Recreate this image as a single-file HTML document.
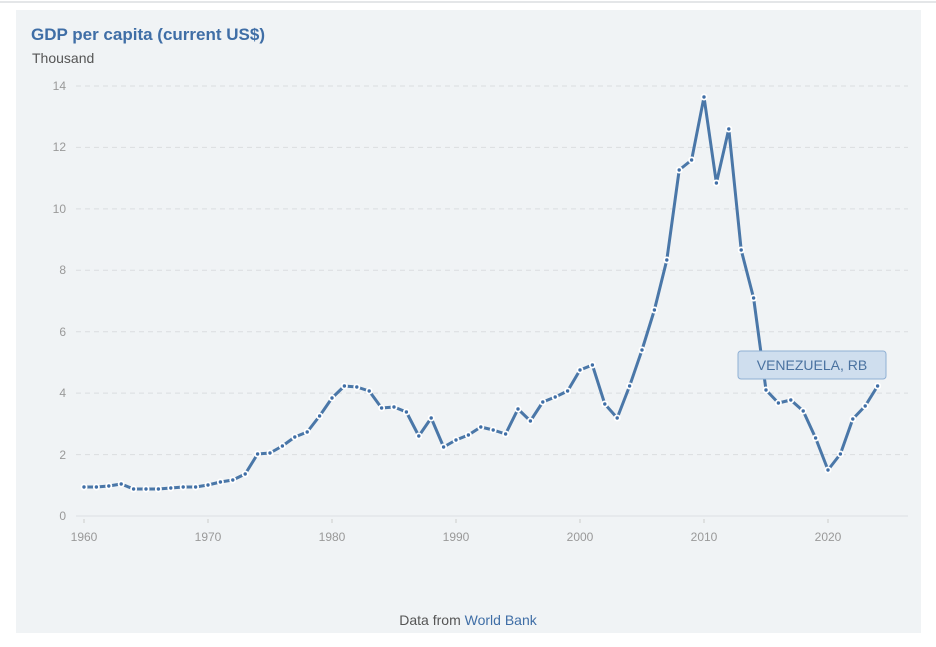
<!DOCTYPE html>
<html><head><meta charset="utf-8"><style>
body{margin:0;width:936px;height:642px;background:#fff;font-family:"Liberation Sans",sans-serif;overflow:hidden}
</style></head><body>
<svg width="936" height="642" xmlns="http://www.w3.org/2000/svg">
<line x1="0" y1="2" x2="936" y2="2" stroke="#e4e6e8" stroke-width="2"/>
<rect x="16" y="10" width="905" height="623" fill="#f0f3f5"/>
<text x="31" y="40" font-size="17" font-weight="bold" fill="#3f6ea6">GDP per capita (current US$)</text>
<text x="32" y="63" font-size="14" fill="#555">Thousand</text>
<g stroke="#dadde0" stroke-dasharray="5,4" stroke-width="1">
<line x1="76" y1="86" x2="908" y2="86"/><line x1="76" y1="147.4" x2="908" y2="147.4"/>
<line x1="76" y1="208.9" x2="908" y2="208.9"/><line x1="76" y1="270.3" x2="908" y2="270.3"/>
<line x1="76" y1="331.7" x2="908" y2="331.7"/><line x1="76" y1="393.1" x2="908" y2="393.1"/>
<line x1="76" y1="454.6" x2="908" y2="454.6"/>
</g>
<line x1="76" y1="516" x2="908" y2="516" stroke="#dcdfe2"/>
<g font-size="12" fill="#999" text-anchor="end">
<text x="66" y="90">14</text><text x="66" y="151">12</text><text x="66" y="213">10</text>
<text x="66" y="274">8</text><text x="66" y="336">6</text><text x="66" y="397">4</text>
<text x="66" y="459">2</text><text x="66" y="520">0</text>
</g>
<g font-size="12" fill="#999" text-anchor="middle">
<text x="84" y="541">1960</text><text x="208" y="541">1970</text><text x="332" y="541">1980</text>
<text x="456" y="541">1990</text><text x="580" y="541">2000</text><text x="704" y="541">2010</text><text x="828" y="541">2020</text>
</g>
<g stroke="#ccc"><line x1="84" y1="519" x2="84" y2="523"/><line x1="208" y1="519" x2="208" y2="523"/><line x1="332" y1="519" x2="332" y2="523"/><line x1="456" y1="519" x2="456" y2="523"/><line x1="580" y1="519" x2="580" y2="523"/><line x1="704" y1="519" x2="704" y2="523"/><line x1="828" y1="519" x2="828" y2="523"/></g>
<g id="s"></g>
<rect x="738" y="351" width="148" height="28" rx="3" fill="#cfdeee" stroke="#8fb0d4"/>
<text x="812" y="370" font-size="14" fill="#4a72a0" text-anchor="middle">VENEZUELA, RB</text>
<text x="468" y="625" font-size="14" fill="#555" text-anchor="middle">Data from <tspan fill="#3f6ea6">World Bank</tspan></text>
</svg>
<script>
var ys=[487,487,486,484,489,489,489,488,487,487,485,482,480,474,454,453,446,437,432,416,398,386,387,391,408,407,412,436,418,447,440,435,427,430,434,409,421,402,397,391,370,365,404,418,386,350,310,260,170,160,97,183,129,250,298,390,403,400,411,438,470,454,419,406,386];
var ns="http://www.w3.org/2000/svg",g=document.getElementById('s'),pts=[];
ys.forEach(function(y,i){pts.push((84+i*12.4).toFixed(1)+','+y)});
var pl=document.createElementNS(ns,'polyline');pl.setAttribute('points',pts.join(' '));
pl.setAttribute('fill','none');pl.setAttribute('stroke','#4a77a8');pl.setAttribute('stroke-width','3');pl.setAttribute('stroke-linejoin','round');g.appendChild(pl);
ys.forEach(function(y,i){var c=document.createElementNS(ns,'circle');c.setAttribute('cx',84+i*12.4);c.setAttribute('cy',y);c.setAttribute('r','2.6');c.setAttribute('fill','#3f6ea6');c.setAttribute('stroke','#fff');c.setAttribute('stroke-width','1.8');g.appendChild(c)});
</script>
</body></html>
